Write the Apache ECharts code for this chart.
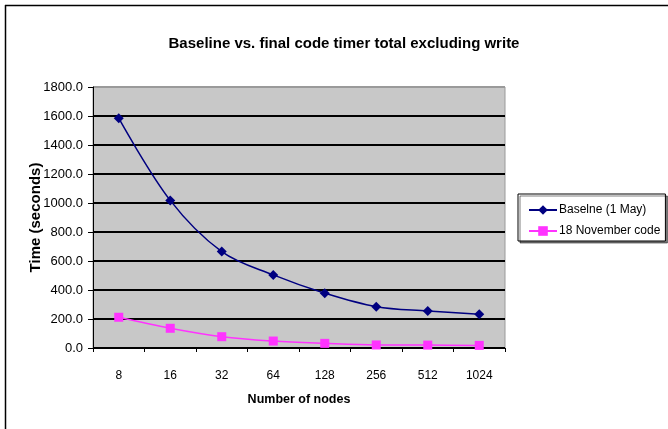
<!DOCTYPE html>
<html>
<head>
<meta charset="utf-8">
<script src="https://cdn.jsdelivr.net/npm/echarts@6/dist/echarts.min.js"></script>
<style>html,body{margin:0;padding:0;background:#fff}#c{width:668px;height:429px}</style>
</head>
<body>
<div id="c"></div>
<script>
var categories = ['8', '16', '32', '64', '128', '256', '512', '1024'];
var baseline = [1585, 1018, 665, 504, 378, 285, 256, 233];
var november = [212, 136, 78, 48, 32, 21, 20, 18];
var seriesNames = ['Baselne (1 May)', '18 November code'];
var yTicks = [0, 200, 400, 600, 800, 1000, 1200, 1400, 1600, 1800];

var FONT = '"Liberation Sans", Arial, sans-serif';
var chart = echarts.init(document.getElementById('c'), null, {renderer: 'canvas'});
var gridColors = yTicks.map(function (v, i) { return i === yTicks.length - 1 ? '#9a9a9a' : '#000'; });
chart.setOption({
  animation: false,
  backgroundColor: '#fff',
  title: {
    text: 'Baseline vs. final code timer total excluding write',
    left: 339, top: 31, textAlign: 'center',
    textStyle: {fontFamily: FONT, fontSize: 15, fontWeight: 'bold', color: '#000'}
  },
  grid: {left: 93, top: 87, right: 163, bottom: 81, show: true, backgroundColor: '#c8c8c8', borderColor: '#9a9a9a', borderWidth: 1},
  legend: {
    orient: 'vertical', left: 518, top: 194,
    data: seriesNames,
    backgroundColor: '#fff', borderColor: '#000', borderWidth: 1,
    shadowColor: 'rgba(0,0,0,0.5)', shadowOffsetX: 2, shadowOffsetY: 2, shadowBlur: 0,
    padding: [10, 5, 4, 10], itemGap: 9, itemWidth: 28, itemHeight: 12,
    textStyle: {fontFamily: FONT, fontSize: 12, color: '#000', padding: [0, 0, 0, -3]}
  },
  xAxis: {
    type: 'category', data: categories, boundaryGap: true,
    name: 'Number of nodes', nameLocation: 'middle', nameGap: 45, nameMoveOverlap: false,
    nameTextStyle: {fontFamily: FONT, fontSize: 12.5, fontWeight: 'bold', color: '#000'},
    axisLine: {lineStyle: {color: '#000', width: 1}},
    axisTick: {show: true, length: 4, lineStyle: {color: '#000'}, alignWithLabel: false},
    axisLabel: {fontFamily: FONT, fontSize: 12, color: '#000', margin: 22}
  },
  yAxis: {
    type: 'value', min: 0, max: 1800, interval: 200,
    name: 'Time (seconds)', nameLocation: 'middle', nameGap: 50, nameRotate: 90, nameMoveOverlap: false,
    nameTextStyle: {fontFamily: FONT, fontSize: 15, fontWeight: 'bold', color: '#000'},
    axisLine: {show: true, lineStyle: {color: '#000', width: 1}},
    axisTick: {show: true, length: 5, lineStyle: {color: '#000'}},
    axisLabel: {fontFamily: FONT, fontSize: 13, color: '#000', margin: 10, formatter: function (v) { return v.toFixed(1); }},
    splitLine: {show: true, lineStyle: {color: gridColors, width: 2}}
  },
  series: [
    {
      name: seriesNames[0], type: 'line', data: baseline, smooth: 0.35,
      symbol: 'diamond', symbolSize: 10,
      lineStyle: {color: '#000080', width: 1.5},
      itemStyle: {color: '#000080'}
    },
    {
      name: seriesNames[1], type: 'line', data: november, smooth: 0.35,
      symbol: 'rect', symbolSize: 9,
      lineStyle: {color: '#ff33ff', width: 1.5},
      itemStyle: {color: '#ff33ff'}
    }
  ],
  graphic: [
    {type: 'line', shape: {x1: 5.5, y1: 5, x2: 5.5, y2: 429}, style: {stroke: '#000', lineWidth: 1.5}},
    {type: 'line', shape: {x1: 5, y1: 5.5, x2: 668, y2: 5.5}, style: {stroke: '#000', lineWidth: 1.5}}
  ]
});
</script>
</body>
</html>
